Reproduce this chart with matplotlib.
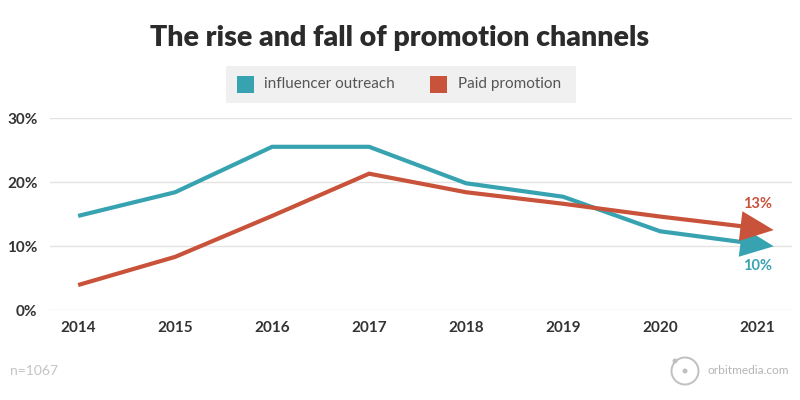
import matplotlib

matplotlib.use("Agg")
import matplotlib.pyplot as plt
from matplotlib.patches import Ellipse, Rectangle

years = [2014, 2015, 2016, 2017, 2018, 2019, 2020, 2021]
influencer = [14.7, 18.4, 25.5, 25.5, 19.8, 17.7, 12.3, 10.3]
paid = [3.9, 8.3, 14.7, 21.3, 18.4, 16.6, 14.6, 12.8]
series_labels = ["influencer outreach", "Paid promotion"]
end_labels = ["10%", "13%"]
y_ticks = [0, 10, 20, 30]

TEAL = "#37a3b1"
RED = "#c9533a"
DARK = "#333333"
W, H = 800, 400

plt.rcParams["font.family"] = ["Lato", "DejaVu Sans"]

fig = plt.figure(figsize=(W / 100, H / 100), dpi=100, facecolor="white")
ax = fig.add_axes([0.0625, 0.225, 0.9275, 0.48])

for vals, color in ((influencer, TEAL), (paid, RED)):
    ax.plot(years, vals, color=color, lw=3.0, solid_capstyle="butt",
            solid_joinstyle="miter", clip_on=False, zorder=3)
    slope = vals[-1] - vals[-2]
    ax.annotate(
        "",
        xy=(years[-1] + 0.2, vals[-1] + slope * 0.2),
        xytext=(years[-1] - 0.05, vals[-1] - slope * 0.05),
        arrowprops=dict(arrowstyle="-|>,head_length=1.0,head_width=0.45",
                        color=color, lw=0, mutation_scale=24),
        annotation_clip=False,
        zorder=4,
    )

ax.text(years[-1], paid[-1] + 2.6, end_labels[1], color=RED, fontsize=10.5,
        fontweight="bold", ha="center", va="bottom")
ax.text(years[-1], influencer[-1] - 2.4, end_labels[0], color=TEAL,
        fontsize=10.5, fontweight="bold", ha="center", va="top")

ax.set_xlim(2013.71, 2021.36)
ax.set_ylim(0, 30)
ax.set_yticks(y_ticks)
ax.set_yticklabels([f"{t}%" for t in y_ticks])
ax.set_xticks(years)
ax.set_xticklabels([str(y) for y in years])
ax.grid(axis="y", color="#e3e3e3", lw=1)
ax.set_axisbelow(True)
for spine in ax.spines.values():
    spine.set_visible(False)
ax.tick_params(length=0, labelsize=11, labelcolor=DARK, pad=8)
ax.tick_params(axis="y", pad=9)
for lbl in ax.get_xticklabels() + ax.get_yticklabels():
    lbl.set_fontweight("bold")

fig.text(0.5, 0.905, "The rise and fall of promotion channels", ha="center",
         va="center", fontsize=20.5, fontweight="heavy", color="#2b2b2b")

# legend box
fig.patches.append(Rectangle((0.283, 0.742), 0.437, 0.093,
                             transform=fig.transFigure, facecolor="#f0f0f0",
                             edgecolor="none"))
for x0, color, label in ((0.296, TEAL, series_labels[0]),
                         (0.538, RED, series_labels[1])):
    fig.patches.append(Rectangle((x0, 0.768), 0.021, 0.042,
                                 transform=fig.transFigure, facecolor=color,
                                 edgecolor="none"))
    fig.text(x0 + 0.034, 0.789, label, ha="left", va="center", fontsize=11,
             color="#555555")

fig.text(0.012, 0.073, "n=1067", ha="left", va="center", fontsize=10,
         color="#c4c4c4")


# orbitmedia logo, sized in pixels so the rings stay round
def _px_circle(cx, cy, r, **kw):
    fig.patches.append(Ellipse((cx / W, 1 - cy / H), 2 * r / W, 2 * r / H,
                               transform=fig.transFigure, **kw))


_px_circle(685, 371, 13.5, facecolor="none", edgecolor="#c0c0c0", lw=1.4)
_px_circle(685, 371, 2.5, facecolor="#c0c0c0", edgecolor="none")
_px_circle(675, 361, 2.5, facecolor="#c0c0c0", edgecolor="none")
fig.text(707 / W, 1 - 371 / H, "orbitmedia.com", ha="left", va="center",
         fontsize=8.6, color="#b5b5b5")

fig.savefig("out.png", dpi=100, facecolor="white")
